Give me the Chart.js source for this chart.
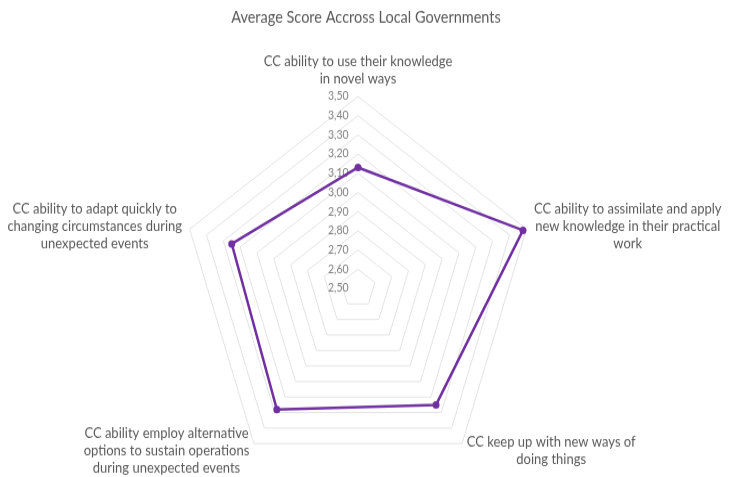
<!DOCTYPE html>
<html>
<head>
<meta charset="utf-8">
<script src="https://cdn.jsdelivr.net/npm/chart.js@4/dist/chart.umd.min.js"></script>
<style>
  html, body { margin: 0; padding: 0; background: #ffffff; }
  #wrap { width: 732px; height: 477px; overflow: hidden; }
</style>
</head>
<body>
<div id="wrap">
  <!-- the chart is drawn a little flatter and stretched to full height -->
  <canvas id="radar" width="732" height="440" style="display:block;width:732px;height:477px"></canvas>
</div>
<script>
const chartTitle = "Average Score Accross Local Governments";

const categories = [
    ["CC ability to use their knowledge", "in novel ways"],
    ["CC ability to assimilate and apply", "new knowledge in their practical", "work"],
    ["CC keep up with new ways of", "doing things"],
    ["CC ability employ alternative", "options to sustain operations", "during unexpected events"],
    ["CC ability to adapt quickly to", "changing circumstances during", "unexpected events"]
];

const scores = [3.13, 3.48, 3.25, 3.28, 3.25];

const scaleMin  = 2.5;
const scaleMax  = 3.5;
const scaleStep = 0.1;

// radar placement on the canvas
const radarCenterX = 358;
const radarCenterY = 266;
const radarRadius  = 177;
const labelGap     = 8;

const textGray = "#595959";
const lineColor = "#7030A0";

// put the category labels around the pentagon: side labels centred on their corner
function placePointLabels(scale) {
    scale.xCenter = radarCenterX;
    scale.yCenter = radarCenterY;
    scale.drawingArea = radarRadius;

    const items = scale._pointLabelItems || [];
    items.forEach((item, i) => {
        const w = item.right - item.left;
        const h = item.bottom - item.top;
        const p = scale.getPointPosition(i, radarRadius + labelGap);
        const cos = Math.cos(p.angle);
        const sin = Math.sin(p.angle);

        let left;
        if (Math.abs(cos) < 0.1) left = p.x - w / 2;
        else if (cos > 0) left = p.x;
        else left = p.x - w;

        let top;
        if (sin < -0.9) top = p.y - h;
        else top = p.y - h / 2;

        item.left = left;
        item.right = left + w;
        item.top = top;
        item.bottom = top + h;
        item.x = left + w / 2;
        item.y = top;
        item.textAlign = "center";
    });
}

window.addEventListener("load", function () {
    const ctx = document.getElementById("radar").getContext("2d");
    new Chart(ctx, {
        type: "radar",
        data: {
            labels: categories,
            datasets: [{
                label: "Average score",
                data: scores,
                borderColor: lineColor,
                backgroundColor: lineColor,
                fill: false,
                borderWidth: 2.5,
                pointRadius: 3.5,
                pointBackgroundColor: lineColor,
                pointBorderWidth: 0
            }]
        },
        options: {
            responsive: false,
            animation: false,
            plugins: {
                legend: { display: false },
                tooltip: { enabled: false },
                title: {
                    display: true,
                    text: chartTitle,
                    color: textGray,
                    font: { family: "Lato", size: 14.5, weight: "normal" },
                    padding: { top: 8, bottom: 14 }
                }
            },
            scales: {
                r: {
                    min: scaleMin,
                    max: scaleMax,
                    ticks: {
                        stepSize: scaleStep,
                        color: "#7f7f7f",
                        font: { family: "Lato", size: 10.5 },
                        showLabelBackdrop: false,
                        // label sits left of the axis
                        callback: (v) => v.toFixed(2).replace(".", ",") + "\u2003".repeat(5)
                    },
                    // the lowest tick is skipped by chart.js, so repeat it once to get "2,50" at the centre
                    afterBuildTicks: (scale) => {
                        scale.ticks.unshift({ value: scale.min });
                    },
                    afterFit: placePointLabels,
                    grid: {
                        color: (c) => (c.tick && c.tick.value <= scaleMin) ? "rgba(0,0,0,0)" : "#e3e3e3",
                        lineWidth: 1
                    },
                    angleLines: { display: false },
                    pointLabels: {
                        color: textGray,
                        font: { family: "Lato", size: 13, lineHeight: 1.22 },
                        padding: 8
                    }
                }
            }
        }
    });
});
</script>
</body>
</html>
